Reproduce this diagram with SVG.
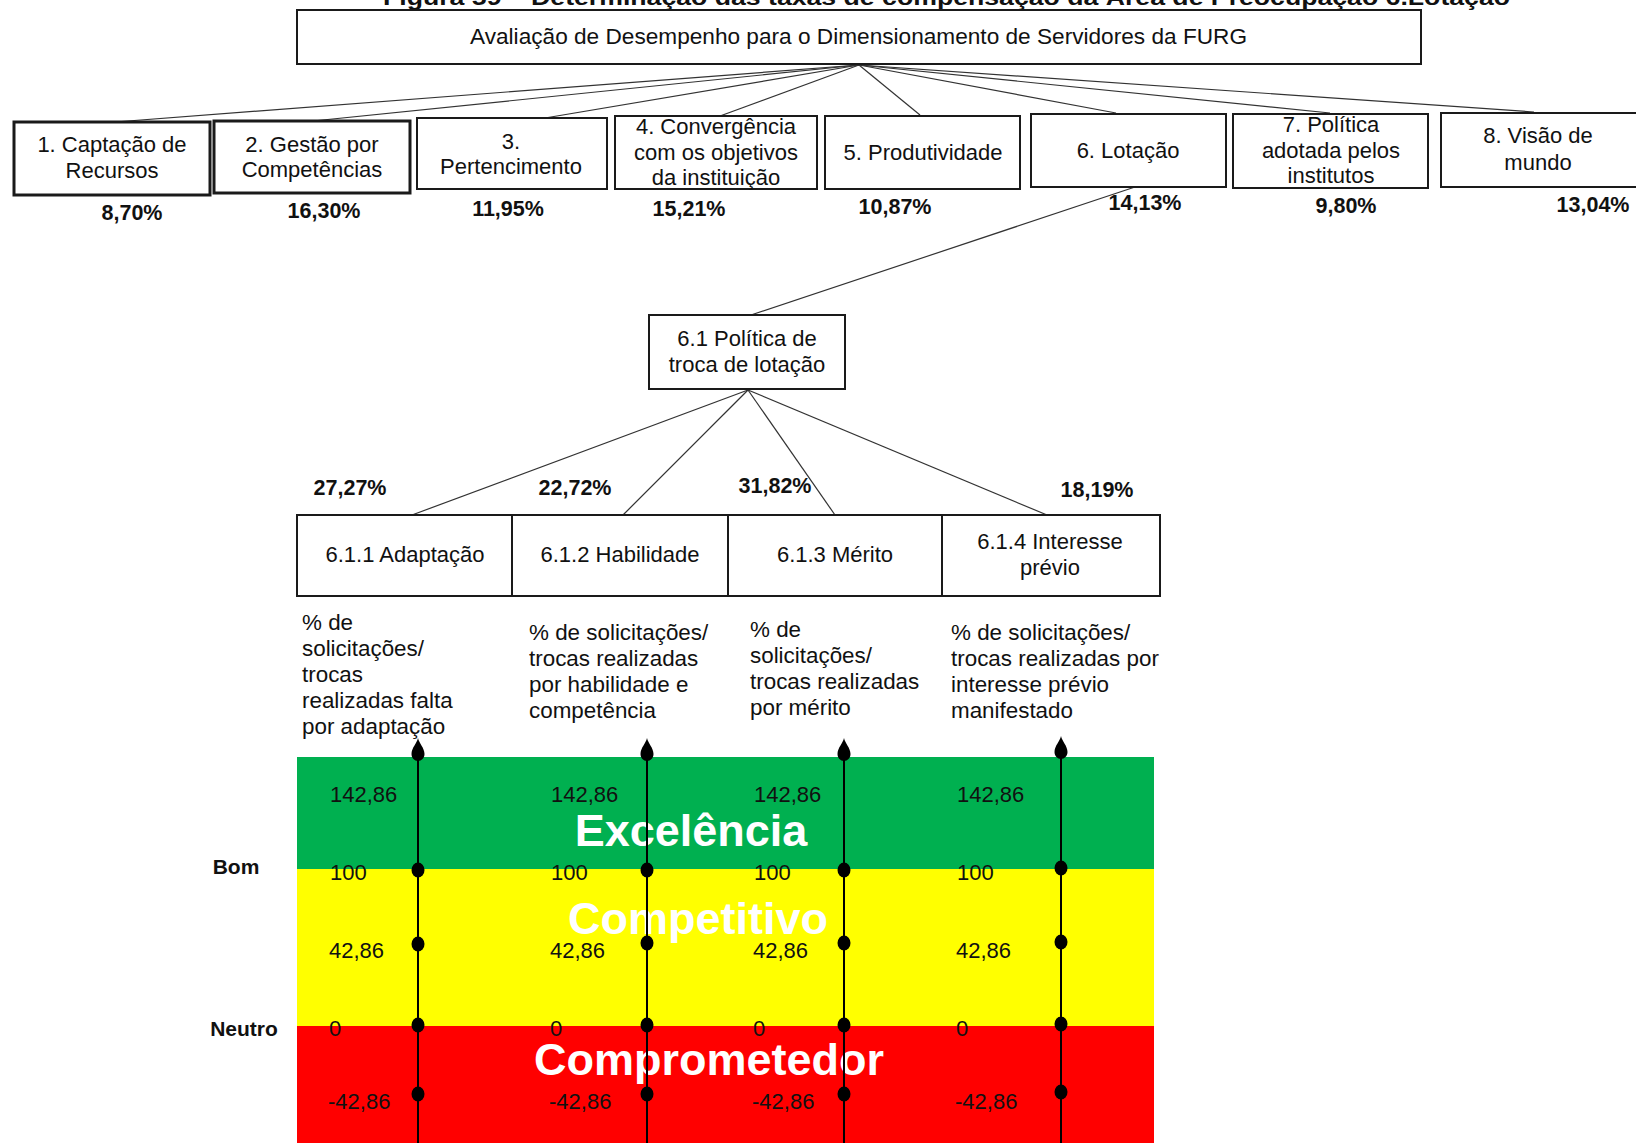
<svg xmlns="http://www.w3.org/2000/svg" xmlns:xlink="http://www.w3.org/1999/xlink" width="1636" height="1143" viewBox="0 0 1636 1143">
  <style>
    text { font-family: "Liberation Sans", Arial, sans-serif; fill: #111; }
    .t { font-size: 22px; text-anchor: middle; }
    .d { font-size: 22.4px; }
    .b { font-size: 21.5px; font-weight: bold; text-anchor: middle; }
    .v { font-size: 22px; }
    .zone { font-size: 45px; font-weight: bold; fill: #fff; text-anchor: middle; }
    .box { fill: #fff; stroke: #1a1a1a; stroke-width: 2; }
    .thick { stroke-width: 3; }
    .link { stroke: #333; stroke-width: 1.2; fill: none; }
    .axis { stroke: #000; stroke-width: 2; fill: none; }
  </style>
  <defs>
    <path id="tip" d="M0,-16 C1,-11 6.5,-6 6.5,0 C6.5,4 3.5,7 0,7 C-3.5,7 -6.5,4 -6.5,0 C-6.5,-6 -1,-11 0,-16 Z" fill="#000"/>
    <ellipse id="dot" rx="6.5" ry="7.5" fill="#000"/>
  </defs>

  <rect width="1636" height="1143" fill="#fff"/>

  <!-- caption -->
  <text x="383" y="5" style="font-size:22px;font-weight:bold" textLength="1127" lengthAdjust="spacingAndGlyphs">Figura 59 – Determinação das taxas de compensação da Área de Preocupação 6.Lotação</text>

  <!-- performance bands -->
  <g id="bands">
    <rect x="297" y="757" width="857" height="112" fill="#00b050"/>
    <rect x="297" y="869" width="857" height="157" fill="#ffff00"/>
    <rect x="297" y="1026" width="857" height="117" fill="#ff0000"/>
  </g>

  <!-- connectors -->
  <g id="connectors">
    <line class="link" x1="859" y1="65" x2="115" y2="122"/>
    <line class="link" x1="859" y1="65" x2="313" y2="121"/>
    <line class="link" x1="859" y1="65" x2="545" y2="118"/>
    <line class="link" x1="859" y1="65" x2="720" y2="116"/>
    <line class="link" x1="859" y1="65" x2="920" y2="115"/>
    <line class="link" x1="859" y1="65" x2="1116" y2="113"/>
    <line class="link" x1="859" y1="65" x2="1330" y2="113"/>
    <line class="link" x1="859" y1="65" x2="1534" y2="112"/>
    <line class="link" x1="1135" y1="187" x2="751" y2="315"/>
    <line class="link" x1="748" y1="390" x2="412" y2="515"/>
    <line class="link" x1="748" y1="390" x2="623" y2="515"/>
    <line class="link" x1="748" y1="390" x2="835" y2="515"/>
    <line class="link" x1="748" y1="390" x2="1047" y2="515"/>
  </g>

  <!-- root -->
  <g id="root">
    <rect class="box" x="297" y="10" width="1124" height="54"/>
    <text x="470" y="44" style="font-size:22px" textLength="777" lengthAdjust="spacingAndGlyphs">Avaliação de Desempenho para o Dimensionamento de Servidores da FURG</text>
  </g>

  <!-- areas of concern -->
  <g id="n1">
    <rect class="box thick" x="14" y="122" width="196" height="73"/>
    <text class="t" x="112" y="152">1. Captação de</text>
    <text class="t" x="112" y="178">Recursos</text>
    <text class="b" x="132" y="220">8,70%</text>
  </g>
  <g id="n2">
    <rect class="box thick" x="214" y="121" width="196" height="72"/>
    <text class="t" x="312" y="152">2. Gestão por</text>
    <text class="t" x="312" y="177">Competências</text>
    <text class="b" x="324" y="218">16,30%</text>
  </g>
  <g id="n3">
    <rect class="box" x="417" y="118" width="190" height="71"/>
    <text class="t" x="511" y="149">3.</text>
    <text class="t" x="511" y="174">Pertencimento</text>
    <text class="b" x="508" y="216">11,95%</text>
  </g>
  <g id="n4">
    <rect class="box" x="615" y="116" width="202" height="73"/>
    <text class="t" x="716" y="134">4. Convergência</text>
    <text class="t" x="716" y="160">com os objetivos</text>
    <text class="t" x="716" y="185">da instituição</text>
    <text class="b" x="689" y="216">15,21%</text>
  </g>
  <g id="n5">
    <rect class="box" x="825" y="116" width="195" height="73"/>
    <text class="t" x="923" y="160">5. Produtividade</text>
    <text class="b" x="895" y="214">10,87%</text>
  </g>
  <g id="n6">
    <rect class="box" x="1031" y="114" width="195" height="73"/>
    <text class="t" x="1128" y="158">6. Lotação</text>
    <text class="b" x="1145" y="210">14,13%</text>
  </g>
  <g id="n7">
    <rect class="box" x="1233" y="114" width="195" height="74"/>
    <text class="t" x="1331" y="132">7. Política</text>
    <text class="t" x="1331" y="158">adotada pelos</text>
    <text class="t" x="1331" y="183">institutos</text>
    <text class="b" x="1346" y="213">9,80%</text>
  </g>
  <g id="n8">
    <rect class="box" x="1441" y="113" width="198" height="74"/>
    <text class="t" x="1538" y="143">8. Visão de</text>
    <text class="t" x="1538" y="170">mundo</text>
    <text class="b" x="1593" y="212">13,04%</text>
  </g>

  <!-- sub-area -->
  <g id="n6_1">
    <rect class="box" x="649" y="315" width="196" height="74"/>
    <text class="t" x="747" y="346">6.1 Política de</text>
    <text class="t" x="747" y="372">troca de lotação</text>
  </g>

  <!-- descriptors -->
  <g id="n6_1_1">
    <rect class="box" x="297" y="515" width="215" height="81"/>
    <text class="t" x="405" y="562">6.1.1 Adaptação</text>
    <text class="b" x="350" y="495">27,27%</text>
    <text class="d" x="302" y="630">% de</text>
    <text class="d" x="302" y="656">solicitações/</text>
    <text class="d" x="302" y="682">trocas</text>
    <text class="d" x="302" y="708">realizadas falta</text>
    <text class="d" x="302" y="734">por adaptação</text>
  </g>
  <g id="n6_1_2">
    <rect class="box" x="512" y="515" width="216" height="81"/>
    <text class="t" x="620" y="562">6.1.2 Habilidade</text>
    <text class="b" x="575" y="495">22,72%</text>
    <text class="d" x="529" y="640">% de solicitações/</text>
    <text class="d" x="529" y="666">trocas realizadas</text>
    <text class="d" x="529" y="692">por habilidade e</text>
    <text class="d" x="529" y="718">competência</text>
  </g>
  <g id="n6_1_3">
    <rect class="box" x="728" y="515" width="214" height="81"/>
    <text class="t" x="835" y="562">6.1.3 Mérito</text>
    <text class="b" x="775" y="493">31,82%</text>
    <text class="d" x="750" y="637">% de</text>
    <text class="d" x="750" y="663">solicitações/</text>
    <text class="d" x="750" y="689">trocas realizadas</text>
    <text class="d" x="750" y="715">por mérito</text>
  </g>
  <g id="n6_1_4">
    <rect class="box" x="942" y="515" width="218" height="81"/>
    <text class="t" x="1050" y="549">6.1.4 Interesse</text>
    <text class="t" x="1050" y="575">prévio</text>
    <text class="b" x="1097" y="497">18,19%</text>
    <text class="d" x="951" y="640">% de solicitações/</text>
    <text class="d" x="951" y="666">trocas realizadas por</text>
    <text class="d" x="951" y="692">interesse prévio</text>
    <text class="d" x="951" y="718">manifestado</text>
  </g>

  <!-- level names -->
  <text x="236" y="874" style="font-size:21px;font-weight:bold;text-anchor:middle">Bom</text>
  <text x="244" y="1036" style="font-size:21px;font-weight:bold;text-anchor:middle">Neutro</text>

  <!-- scale values -->
  <g id="values">
    <text class="v" x="330" y="802">142,86</text>
    <text class="v" x="330" y="880">100</text>
    <text class="v" x="329" y="958">42,86</text>
    <text class="v" x="329" y="1036">0</text>
    <text class="v" x="328" y="1109">-42,86</text>

    <text class="v" x="551" y="802">142,86</text>
    <text class="v" x="551" y="880">100</text>
    <text class="v" x="550" y="958">42,86</text>
    <text class="v" x="550" y="1036">0</text>
    <text class="v" x="549" y="1109">-42,86</text>

    <text class="v" x="754" y="802">142,86</text>
    <text class="v" x="754" y="880">100</text>
    <text class="v" x="753" y="958">42,86</text>
    <text class="v" x="753" y="1036">0</text>
    <text class="v" x="752" y="1109">-42,86</text>

    <text class="v" x="957" y="802">142,86</text>
    <text class="v" x="957" y="880">100</text>
    <text class="v" x="956" y="958">42,86</text>
    <text class="v" x="956" y="1036">0</text>
    <text class="v" x="955" y="1109">-42,86</text>
  </g>

  <!-- band names -->
  <text class="zone" x="691" y="846">Excelência</text>
  <text class="zone" x="698" y="934">Competitivo</text>
  <text class="zone" x="709" y="1075">Comprometedor</text>

  <!-- scales -->
  <g id="scales">
    <line class="axis" x1="418" y1="752" x2="418" y2="1143"/>
    <use xlink:href="#tip" x="418" y="754"/>
    <use xlink:href="#dot" x="418" y="870"/>
    <use xlink:href="#dot" x="418" y="944"/>
    <use xlink:href="#dot" x="418" y="1025"/>
    <use xlink:href="#dot" x="418" y="1094"/>

    <line class="axis" x1="647" y1="752" x2="647" y2="1143"/>
    <use xlink:href="#tip" x="647" y="754"/>
    <use xlink:href="#dot" x="647" y="870"/>
    <use xlink:href="#dot" x="647" y="943"/>
    <use xlink:href="#dot" x="647" y="1025"/>
    <use xlink:href="#dot" x="647" y="1094"/>

    <line class="axis" x1="844" y1="752" x2="844" y2="1143"/>
    <use xlink:href="#tip" x="844" y="754"/>
    <use xlink:href="#dot" x="844" y="870"/>
    <use xlink:href="#dot" x="844" y="943"/>
    <use xlink:href="#dot" x="844" y="1025"/>
    <use xlink:href="#dot" x="844" y="1094"/>

    <line class="axis" x1="1061" y1="752" x2="1061" y2="1143"/>
    <use xlink:href="#tip" x="1061" y="752"/>
    <use xlink:href="#dot" x="1061" y="868"/>
    <use xlink:href="#dot" x="1061" y="942"/>
    <use xlink:href="#dot" x="1061" y="1024"/>
    <use xlink:href="#dot" x="1061" y="1092"/>
  </g>
</svg>
